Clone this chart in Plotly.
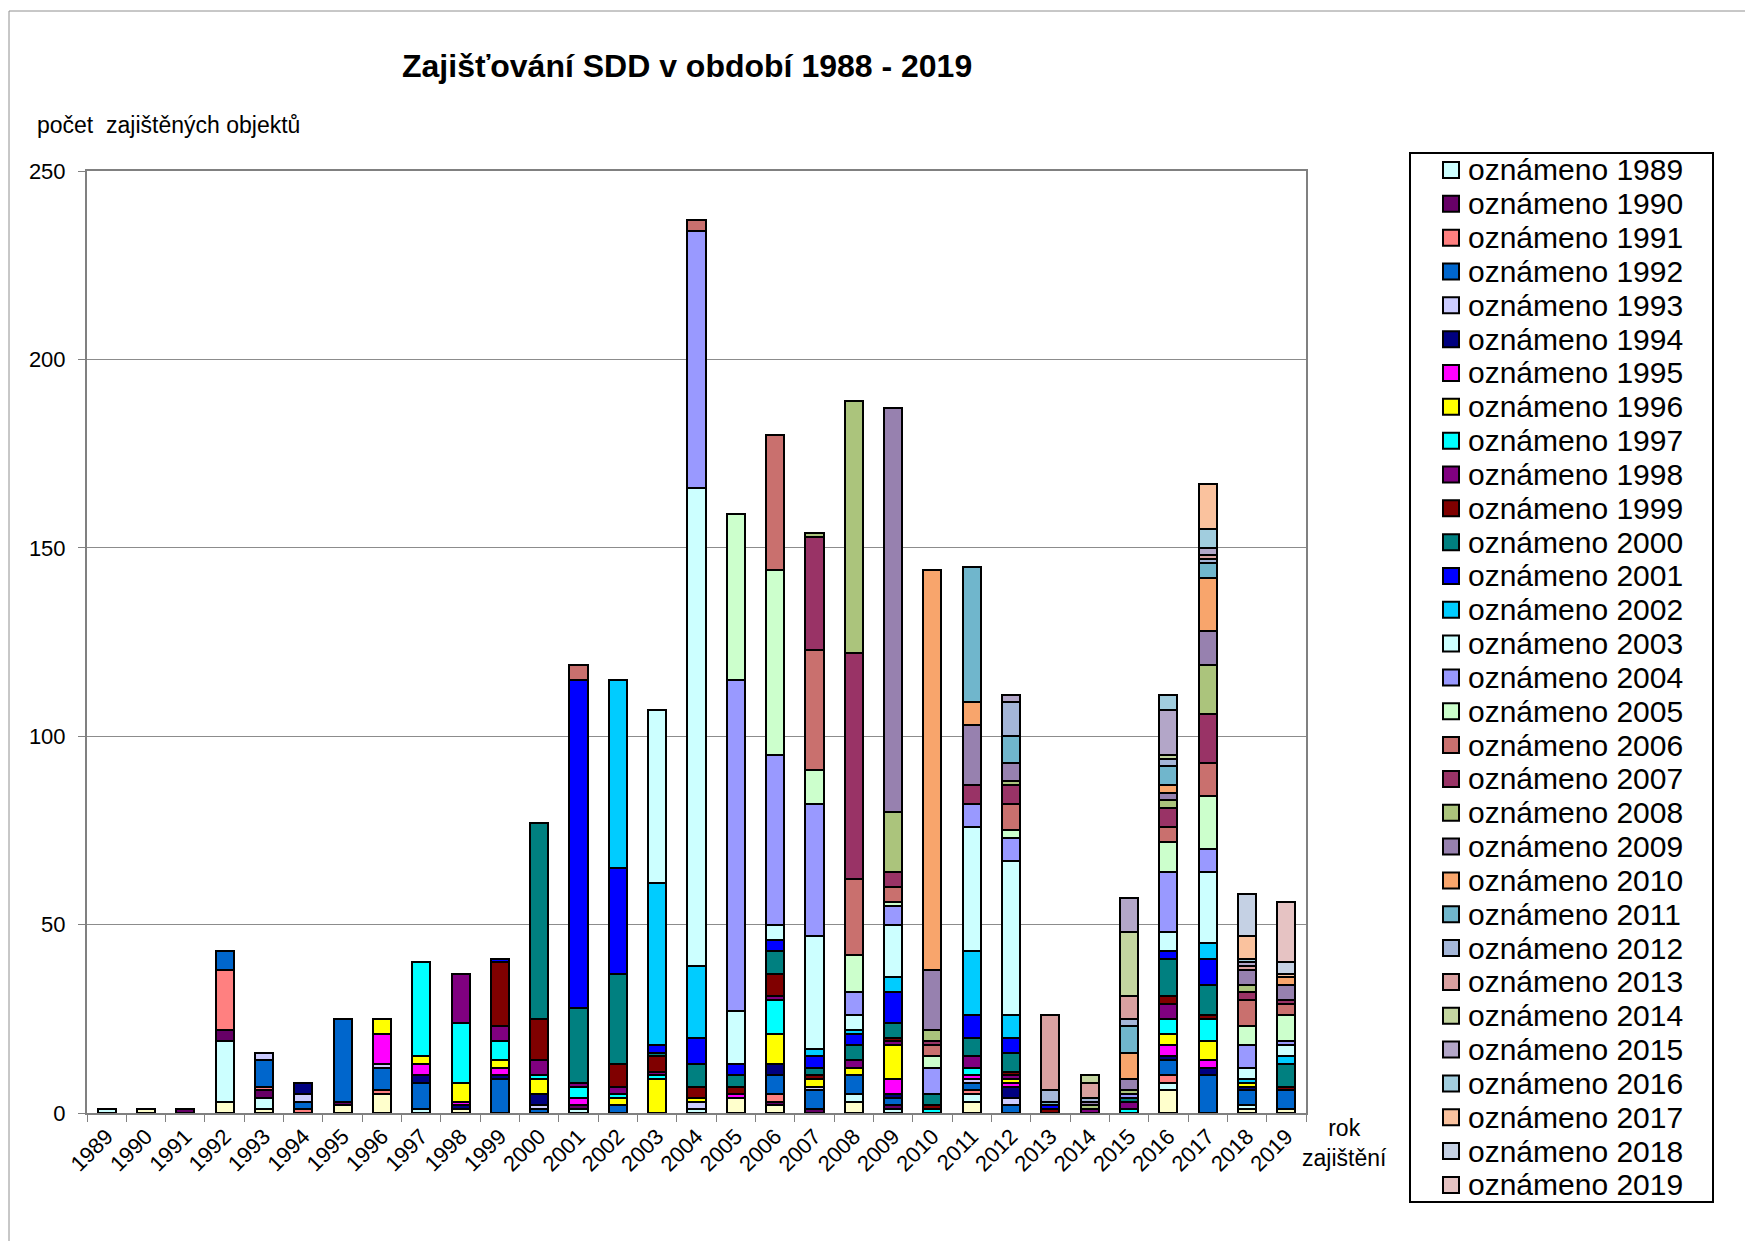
import plotly.graph_objects as go

categories = ["1989", "1990", "1991", "1992", "1993", "1994", "1995", "1996", "1997", "1998",
              "1999", "2000", "2001", "2002", "2003", "2004", "2005", "2006", "2007", "2008",
              "2009", "2010", "2011", "2012", "2013", "2014", "2015", "2016", "2017", "2018", "2019"]

#                 1989..1998                      1999..2008                      2009..2019
oznameno_1988 = [0, 1, 0, 3, 1, 0, 2, 5, 0, 1,   0, 0, 0, 0, 0, 0, 4, 2, 0, 3,   0, 0, 3, 0, 0, 0, 0, 6, 0, 1, 1]
oznameno_1989 = [1, 0, 0, 16, 3, 0, 0, 0, 1, 0,  0, 0, 1, 0, 0, 1, 0, 0, 0, 2,   1, 0, 2, 0, 0, 0, 0, 2, 0, 1, 0]
oznameno_1990 = [0, 0, 1, 3, 2, 0, 1, 0, 0, 0,   0, 0, 1, 0, 0, 0, 0, 1, 1, 0,   1, 0, 0, 0, 0, 0, 0, 0, 0, 0, 0]
oznameno_1991 = [0, 0, 0, 16, 1, 1, 0, 1, 0, 0,  0, 0, 0, 0, 0, 0, 0, 2, 0, 0,   0, 0, 1, 0, 0, 0, 0, 2, 0, 0, 0]
oznameno_1992 = [0, 0, 0, 5, 7, 2, 22, 6, 7, 0,  9, 1, 0, 2, 0, 0, 0, 5, 5, 5,   2, 0, 2, 2, 0, 0, 0, 4, 10, 4, 5]
oznameno_1993 = [0, 0, 0, 0, 2, 2, 0, 1, 0, 0,   0, 1, 0, 0, 0, 2, 0, 0, 1, 0,   0, 0, 1, 2, 0, 0, 0, 0, 0, 0, 0]
oznameno_1994 = [0, 0, 0, 0, 0, 3, 0, 0, 2, 1,   1, 3, 0, 0, 0, 0, 0, 3, 0, 0,   1, 0, 0, 3, 0, 0, 0, 1, 2, 1, 0]
oznameno_1995 = [0, 0, 0, 0, 0, 0, 0, 8, 3, 1,   2, 0, 2, 0, 0, 0, 1, 0, 0, 0,   4, 0, 1, 1, 0, 0, 0, 3, 2, 0, 0]
oznameno_1996 = [0, 0, 0, 0, 0, 0, 0, 4, 2, 5,   2, 4, 0, 2, 9, 1, 0, 8, 2, 2,   9, 0, 0, 1, 0, 0, 0, 3, 5, 1, 0]
oznameno_1997 = [0, 0, 0, 0, 0, 0, 0, 0, 25, 16, 5, 1, 3, 1, 1, 0, 0, 9, 0, 0,   0, 1, 2, 0, 0, 0, 1, 4, 6, 0, 0]
oznameno_1998 = [0, 0, 0, 0, 0, 0, 0, 0, 0, 13,  4, 4, 1, 2, 1, 0, 0, 1, 0, 2,   1, 0, 3, 1, 0, 1, 2, 4, 0, 0, 0]
oznameno_1999 = [0, 0, 0, 0, 0, 0, 0, 0, 0, 0,   17, 11, 0, 6, 4, 3, 2, 6, 1, 0, 1, 1, 0, 1, 1, 0, 0, 2, 1, 0, 1]
oznameno_2000 = [0, 0, 0, 0, 0, 0, 0, 0, 0, 0,   0, 52, 20, 24, 1, 6, 3, 6, 2, 4, 4, 3, 5, 5, 0, 0, 1, 10, 8, 0, 6]
oznameno_2001 = [0, 0, 0, 0, 0, 0, 0, 0, 0, 0,   1, 0, 87, 28, 2, 7, 3, 3, 3, 3, 8, 0, 6, 4, 1, 0, 0, 2, 7, 0, 0]
oznameno_2002 = [0, 0, 0, 0, 0, 0, 0, 0, 0, 0,   0, 0, 0, 50, 43, 19, 0, 0, 2, 1, 4, 0, 17, 6, 0, 0, 0, 0, 4, 1, 2]
oznameno_2003 = [0, 0, 0, 0, 0, 0, 0, 0, 0, 0,   0, 0, 0, 0, 46, 127, 14, 4, 30, 4, 14, 0, 33, 41, 0, 0, 0, 5, 19, 3, 3]
oznameno_2004 = [0, 0, 0, 0, 0, 0, 0, 0, 0, 0,   0, 0, 0, 0, 0, 68, 88, 45, 35, 6, 5, 7, 6, 6, 0, 0, 1, 16, 6, 6, 1]
oznameno_2005 = [0, 0, 0, 0, 0, 0, 0, 0, 0, 0,   0, 0, 0, 0, 0, 0, 44, 49, 9, 10, 1, 3, 0, 2, 0, 0, 0, 8, 14, 5, 7]
oznameno_2006 = [0, 0, 0, 0, 0, 0, 0, 0, 0, 0,   0, 0, 4, 0, 0, 3, 0, 36, 32, 20, 4, 3, 0, 7, 0, 0, 0, 4, 9, 7, 3]
oznameno_2007 = [0, 0, 0, 0, 0, 0, 0, 0, 0, 0,   0, 0, 0, 0, 0, 0, 0, 0, 30, 60,  4, 1, 5, 5, 0, 0, 0, 5, 13, 2, 1]
oznameno_2008 = [0, 0, 0, 0, 0, 0, 0, 0, 0, 0,   0, 0, 0, 0, 0, 0, 0, 0, 1, 67,   16, 3, 0, 1, 0, 1, 1, 2, 13, 2, 0]
oznameno_2009 = [0, 0, 0, 0, 0, 0, 0, 0, 0, 0,   0, 0, 0, 0, 0, 0, 0, 0, 0, 0,    107, 16, 16, 5, 0, 1, 3, 2, 9, 4, 4]
oznameno_2010 = [0, 0, 0, 0, 0, 0, 0, 0, 0, 0,   0, 0, 0, 0, 0, 0, 0, 0, 0, 0,    0, 106, 6, 0, 0, 0, 7, 2, 14, 0, 2]
oznameno_2011 = [0, 0, 0, 0, 0, 0, 0, 0, 0, 0,   0, 0, 0, 0, 0, 0, 0, 0, 0, 0,    0, 0, 36, 7, 1, 0, 7, 5, 4, 0, 0]
oznameno_2012 = [0, 0, 0, 0, 0, 0, 0, 0, 0, 0,   0, 0, 0, 0, 0, 0, 0, 0, 0, 0,    0, 0, 0, 9, 3, 1, 2, 2, 1, 0, 0]
oznameno_2013 = [0, 0, 0, 0, 0, 0, 0, 0, 0, 0,   0, 0, 0, 0, 0, 0, 0, 0, 0, 0,    0, 0, 0, 0, 20, 4, 6, 0, 1, 1, 0]
oznameno_2014 = [0, 0, 0, 0, 0, 0, 0, 0, 0, 0,   0, 0, 0, 0, 0, 0, 0, 0, 0, 0,    0, 0, 0, 0, 0, 2, 17, 1, 0, 0, 0]
oznameno_2015 = [0, 0, 0, 0, 0, 0, 0, 0, 0, 0,   0, 0, 0, 0, 0, 0, 0, 0, 0, 0,    0, 0, 0, 2, 0, 0, 9, 12, 2, 1, 0]
oznameno_2016 = [0, 0, 0, 0, 0, 0, 0, 0, 0, 0,   0, 0, 0, 0, 0, 0, 0, 0, 0, 0,    0, 0, 0, 0, 0, 0, 0, 4, 5, 1, 0]
oznameno_2017 = [0, 0, 0, 0, 0, 0, 0, 0, 0, 0,   0, 0, 0, 0, 0, 0, 0, 0, 0, 0,    0, 0, 0, 0, 0, 0, 0, 0, 12, 6, 1]
oznameno_2018 = [0, 0, 0, 0, 0, 0, 0, 0, 0, 0,   0, 0, 0, 0, 0, 0, 0, 0, 0, 0,    0, 0, 0, 0, 0, 0, 0, 0, 0, 11, 3]
oznameno_2019 = [0, 0, 0, 0, 0, 0, 0, 0, 0, 0,   0, 0, 0, 0, 0, 0, 0, 0, 0, 0,    0, 0, 0, 0, 0, 0, 0, 0, 0, 0, 16]

series_names = ["oznámeno 1988", "oznámeno 1989", "oznámeno 1990", "oznámeno 1991", "oznámeno 1992",
                "oznámeno 1993", "oznámeno 1994", "oznámeno 1995", "oznámeno 1996", "oznámeno 1997",
                "oznámeno 1998", "oznámeno 1999", "oznámeno 2000", "oznámeno 2001", "oznámeno 2002",
                "oznámeno 2003", "oznámeno 2004", "oznámeno 2005", "oznámeno 2006", "oznámeno 2007",
                "oznámeno 2008", "oznámeno 2009", "oznámeno 2010", "oznámeno 2011", "oznámeno 2012",
                "oznámeno 2013", "oznámeno 2014", "oznámeno 2015", "oznámeno 2016", "oznámeno 2017",
                "oznámeno 2018", "oznámeno 2019"]
series_values = [oznameno_1988, oznameno_1989, oznameno_1990, oznameno_1991, oznameno_1992,
                 oznameno_1993, oznameno_1994, oznameno_1995, oznameno_1996, oznameno_1997,
                 oznameno_1998, oznameno_1999, oznameno_2000, oznameno_2001, oznameno_2002,
                 oznameno_2003, oznameno_2004, oznameno_2005, oznameno_2006, oznameno_2007,
                 oznameno_2008, oznameno_2009, oznameno_2010, oznameno_2011, oznameno_2012,
                 oznameno_2013, oznameno_2014, oznameno_2015, oznameno_2016, oznameno_2017,
                 oznameno_2018, oznameno_2019]
series_colors = ["#FFFFCC", "#CCFFFF", "#660066", "#FF8080", "#0066CC",
                 "#CCCCFF", "#000080", "#FF00FF", "#FFFF00", "#00FFFF",
                 "#800080", "#800000", "#008080", "#0000FF", "#00CCFF",
                 "#CCFFFF", "#9999FF", "#CCFFCC", "#C9706E", "#993366",
                 "#ABC47C", "#9781AF", "#F8A56C", "#70B6CC", "#A4B6D8",
                 "#D9A0A0", "#C4D6A0", "#B3A6C8", "#A1CDDE", "#FAC29E",
                 "#C5D1E4", "#E6C3C3"]
in_legend = [False] + [True] * 31

FONT = "Liberation Sans, Arial, sans-serif"
PAGE_OFF = 8                     # the html body margin offsets the figure on the page
W, H = 1753 - PAGE_OFF, 1241 - PAGE_OFF
# plot area box, in page pixels
PL, PR, PT, PB = 87, 1306, 171, 1113
L, R, T, B = PL - PAGE_OFF, PR - PAGE_OFF, PT - PAGE_OFF, PB - PAGE_OFF


def px(x):
    """page pixel x -> paper fraction"""
    return (x - PL) / (PR - PL)


def py(y):
    """page pixel y -> paper fraction"""
    return (PB - y) / (PB - PT)


fig = go.Figure()
for name, vals, color in zip(series_names, series_values, series_colors):
    fig.add_trace(go.Bar(
        x=categories,
        y=[v if v else None for v in vals],
        name=name,
        marker=dict(color=color, line=dict(color="black", width=2)),
        showlegend=False,
    ))

shapes = []
annotations = []

# outer chart frame
shapes.append(dict(type="rect", xref="paper", yref="paper",
                   x0=px(9), x1=px(1780), y0=py(1270), y1=py(11),
                   line=dict(color="#909090", width=1), fillcolor="rgba(0,0,0,0)", layer="below"))

# legend box
shapes.append(dict(type="rect", xref="paper", yref="paper",
                   x0=px(1410), x1=px(1713), y0=py(1202), y1=py(153),
                   line=dict(color="black", width=2), fillcolor="white"))

row = 0
step = 33.83
for name, color, show in zip(series_names, series_colors, in_legend):
    if not show:
        continue
    cy = 170 + row * step
    shapes.append(dict(type="rect", xref="paper", yref="paper",
                       x0=px(1443), x1=px(1459), y0=py(cy + 8), y1=py(cy - 8),
                       line=dict(color="black", width=2), fillcolor=color))
    annotations.append(dict(text=name, xref="paper", yref="paper",
                            x=px(1466), y=py(cy), xanchor="left", yanchor="middle",
                            showarrow=False, font=dict(family=FONT, size=30, color="black")))
    row += 1

annotations.append(dict(text="<b>Zajišťování SDD v období 1988 - 2019</b>", xref="paper", yref="paper",
                        x=px(687), y=py(66), xanchor="center", yanchor="middle", showarrow=False,
                        font=dict(family=FONT, size=32, color="black")))
annotations.append(dict(text="počet\u00a0 zajištěných objektů", xref="paper", yref="paper",
                        x=px(35), y=py(125), xanchor="left", yanchor="middle", showarrow=False,
                        font=dict(family=FONT, size=23, color="black")))
annotations.append(dict(text="rok<br>zajištění", xref="paper", yref="paper",
                        x=px(1344), y=py(1143), xanchor="center", yanchor="middle", showarrow=False,
                        align="center", font=dict(family=FONT, size=23, color="black")))

fig.update_layout(
    width=W, height=H,
    margin=dict(l=L, r=W - R, t=T, b=H - B, pad=0),
    barmode="stack", bargap=0.54,
    plot_bgcolor="white", paper_bgcolor="white",
    font=dict(family=FONT, size=22, color="black"),
    showlegend=False,
    shapes=shapes, annotations=annotations,
)
fig.update_xaxes(type="category", tickangle=-45, tickson="boundaries", ticks="outside", ticklen=7,
                 tickcolor="#808080", tickwidth=1, showline=True, linecolor="#808080", linewidth=2,
                 mirror=True, showgrid=False, tickfont=dict(family=FONT, size=22, color="black"))
fig.update_yaxes(range=[0, 250], tick0=0, dtick=50, ticks="outside", ticklen=7, tickcolor="#808080",
                 tickwidth=1, showline=True, linecolor="#808080", linewidth=2, mirror=True,
                 showgrid=True, gridcolor="#8c8c8c", gridwidth=1, zeroline=False,
                 ticklabelstandoff=8, tickfont=dict(family=FONT, size=22, color="black"))

fig.write_html("out.html")
